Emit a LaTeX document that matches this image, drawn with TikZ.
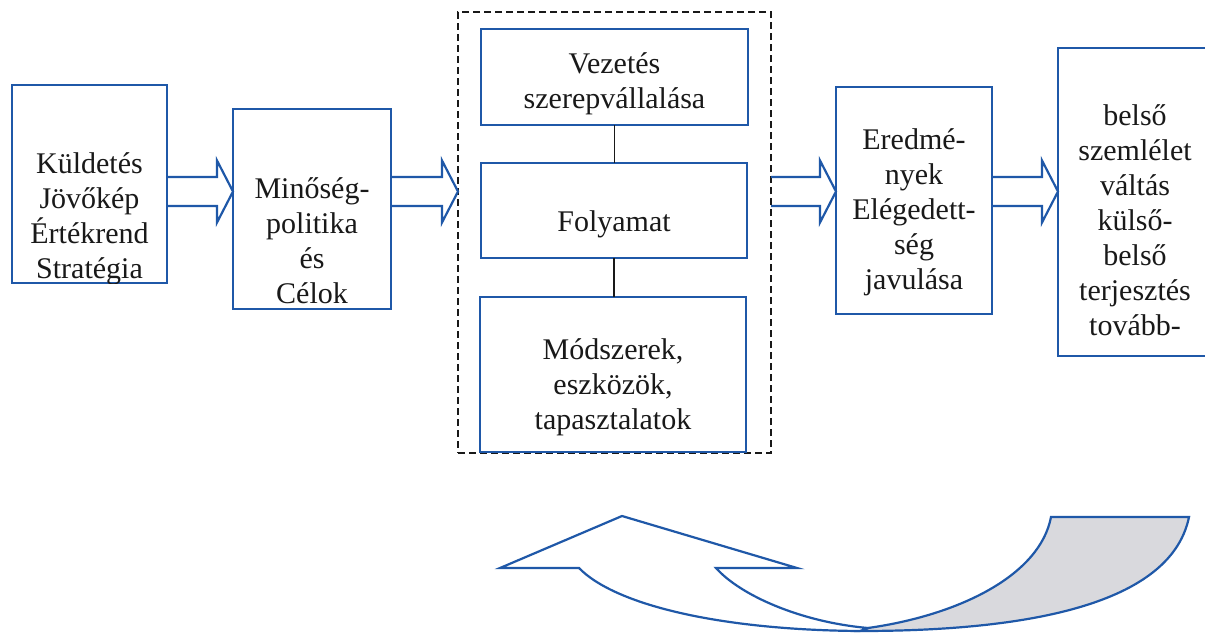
\documentclass[tikz,border=0pt]{standalone}
\usepackage{fontspec}
\setmainfont{Liberation Serif}
\usetikzlibrary{calc}
\definecolor{lineblue}{RGB}{31,88,168}
\definecolor{txtcol}{RGB}{25,25,25}
\definecolor{ribbongray}{RGB}{217,217,221}
\newcommand\myfatarrow[2]{%
  \draw[fat] ($(#1.east |- ay)+(0,-14.5)$) -- ($(#2.west |- ay)+(-16,-14.5)$) -- ++(0,-16.5)
    -- (#2.west |- ay) -- ++(-16,31) -- ++(0,-16.5) -- ($(#1.east |- ay)+(0,14.5)$);}
\begin{document}
\begin{tikzpicture}[x=1pt,y=-1pt,
  bbox/.style={draw=lineblue, line width=2.2pt, fill=white, inner sep=0pt, outer sep=0pt},
  txt/.style={text=txtcol, font=\fontsize{30}{35}\selectfont, align=center, inner sep=0pt},
  fat/.style={draw=lineblue, line width=2.2pt, line join=miter},
  dashbox/.style={draw=black!90, line width=2pt, dash pattern=on 7pt off 4pt, inner sep=0pt, outer sep=0pt},
  link/.style={draw=black!90, line width=1.6pt}]
\useasboundingbox (0,0) rectangle (1205,632);
\clip (0,0) rectangle (1205,632);
\fill[white] (0,0) rectangle (1205,632);
\coordinate (ay) at (0,191.5);
% boxes
\node[dashbox, minimum width=313pt, minimum height=441pt] (grp) at (614.5,232.5) {};
\node[bbox, minimum width=155pt, minimum height=198pt] (b1) at (89.5,184) {};
\node[bbox, minimum width=158pt, minimum height=200pt] (b2) at (312,209) {};
\node[bbox, minimum width=267pt, minimum height=96pt] (vez) at (614.5,77) {};
\node[bbox, minimum width=266pt, minimum height=95pt] (fol) at (614,210.5) {};
\node[bbox, minimum width=266pt, minimum height=155pt] (mod) at (613,374.5) {};
\node[bbox, minimum width=156pt, minimum height=227pt] (b4) at (914,200.5) {};
\node[bbox, minimum width=157pt, minimum height=308pt] (b5) at (1136.5,202) {};
% texts
\begin{scope}
\clip (b1.south west) rectangle (b1.north east);
\node[txt] (t1) at (89.5,219) {Küldetés\\Jövőkép\\Értékrend\\Stratégia};
\end{scope}
\begin{scope}
\clip (b2.south west) rectangle (b2.north east);
\node[txt] (t2) at (312,241) {Minőség-\\politika\\és\\Célok};
\end{scope}
\node[txt] (tv) at (614.5,84) {Vezetés\\szerepvállalása};
\node[txt, anchor=base] (tf) at (614,231) {Folyamat};
\node[txt] (tm) at (613,387) {Módszerek,\\eszközök,\\tapasztalatok};
\node[txt] (t4) at (914,212) {Eredmé-\\nyek\\Elégedett-\\ség\\javulása};
\node[txt] (t5) at (1135,220) {belső\\szemlélet\\váltás\\külső-\\belső\\terjesztés\\tovább-};
% links inside group
\draw[link] (vez.south) -- (vez.south |- fol.north);
\draw[link] (fol.south) -- (fol.south |- mod.north);
% fat arrows
\myfatarrow{b1}{b2}
\myfatarrow{b2}{grp}
\myfatarrow{grp}{b4}
\myfatarrow{b4}{b5}
% curved return arrow
\draw[fat, fill=ribbongray] (868,628) .. controls (960,615) and (1040,575) .. (1051,517)
  -- (1189,517) .. controls (1170,610) and (1010,631) .. (860,631) -- cycle;
\draw[fat, fill=white] (579,568) -- (500,568) -- (622,516) -- (797,568) -- (716,568)
  .. controls (740,595) and (800,622) .. (868,628) -- (860,631)
  .. controls (720,630) and (615,605) .. (579,568) -- cycle;
\end{tikzpicture}
\end{document}
